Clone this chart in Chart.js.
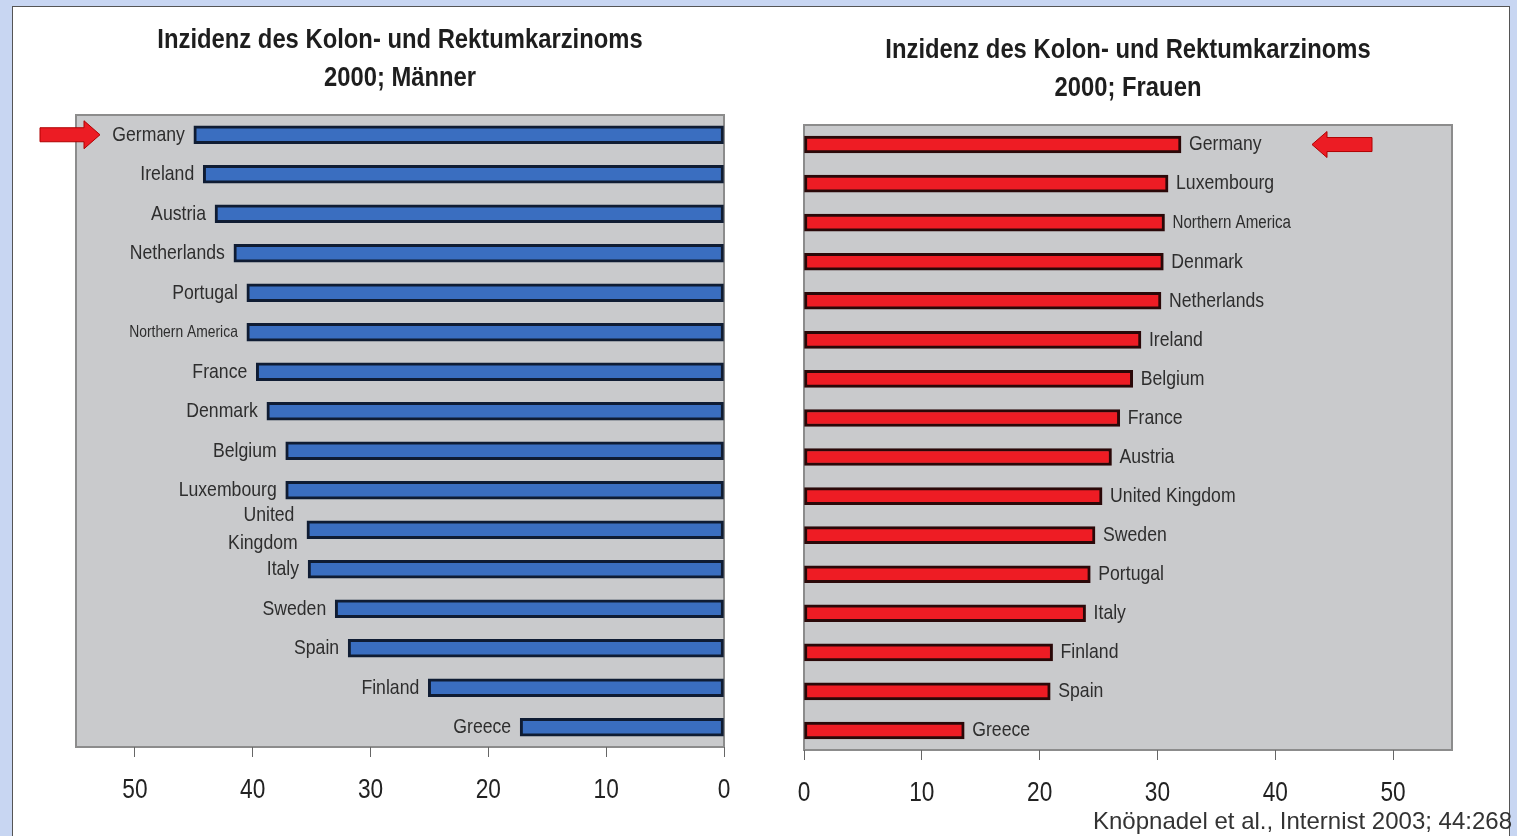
<!DOCTYPE html>
<html>
<head>
<meta charset="utf-8">
<script src="https://cdn.jsdelivr.net/npm/chart.js@4"></script>
<style>
body { margin: 0; background: #c8d6f2; width: 1517px; height: 836px; overflow: hidden; position: relative;
       font-family: 'Liberation Sans', Arial, sans-serif; }
#frame { position: absolute; left: 12px; top: 6px; width: 1496px; height: 840px; background: #fff; border: 1px solid #555; }
#menWrap { position: absolute; left: 12px; top: 6px; width: 748px; height: 830px; }
#womenWrap { position: absolute; left: 770px; top: 6px; width: 740px; height: 830px; }
#cite { position: absolute; right: 5px; top: 807px; font-size: 24px; color: #333; white-space: nowrap; }
</style>
</head>
<body>
<div id="frame"></div>
<div id="menWrap"><canvas id="men" width="748" height="830"></canvas></div>
<div id="womenWrap"><canvas id="women" width="740" height="830"></canvas></div>
<div id="cite">Knöpnadel et al., Internist 2003; 44:268</div>
<script>
var FONT = "'Liberation Sans', Arial, sans-serif";
var SQUEEZE = 0.84; // the original uses a narrow Helvetica

var menCountries = ['Germany', 'Ireland', 'Austria', 'Netherlands', 'Portugal', 'Northern America', 'France', 'Denmark',
    'Belgium', 'Luxembourg', 'United Kingdom', 'Italy', 'Sweden', 'Spain', 'Finland', 'Greece'];
var menValues = [45.0, 44.2, 43.2, 41.6, 40.5, 40.5, 39.7, 38.8, 37.2, 37.2, 35.4, 35.3, 33.0, 31.9, 25.1, 17.3];

var womenCountries = ['Germany', 'Luxembourg', 'Northern America', 'Denmark', 'Netherlands', 'Ireland', 'Belgium', 'France',
    'Austria', 'United Kingdom', 'Sweden', 'Portugal', 'Italy', 'Finland', 'Spain', 'Greece'];
var womenValues = [32.0, 30.9, 30.6, 30.5, 30.3, 28.6, 27.9, 26.8, 26.1, 25.3, 24.7, 24.3, 23.9, 21.1, 20.9, 13.6];

var xTicks = [0, 10, 20, 30, 40, 50];
var xMax = 55;

function narrowText(ctx, text, x, y, align, font, squeeze) {
    ctx.save();
    ctx.translate(x, y);
    ctx.scale(squeeze || SQUEEZE, 1);
    ctx.font = font;
    ctx.textAlign = align;
    ctx.textBaseline = 'middle';
    ctx.fillText(text, 0, 0);
    ctx.restore();
}

// grey plot box behind the bars
var plotBox = {
    id: 'plotBox',
    beforeDraw: function (chart) {
        var a = chart.chartArea, ctx = chart.ctx;
        ctx.save();
        ctx.fillStyle = '#c9cacc';
        ctx.fillRect(a.left, a.top, a.right - a.left, a.bottom - a.top);
        ctx.strokeStyle = '#8c8c8c';
        ctx.lineWidth = 2;
        ctx.strokeRect(a.left, a.top, a.right - a.left, a.bottom - a.top);
        ctx.restore();
    }
};

// titles, tick numbers, country names and the red arrow
var decorations = {
    id: 'decorations',
    afterDatasetsDraw: function (chart, args, opts) {
        var ctx = chart.ctx;
        var a = chart.chartArea;
        var meta = chart.getDatasetMeta(0);
        var labels = chart.data.labels;
        var cx = (a.left + a.right) / 2;

        ctx.save();
        ctx.fillStyle = '#1e1e1e';
        narrowText(ctx, opts.title[0], cx, a.top - 75, 'center', 'bold 28px ' + FONT, 0.85);
        narrowText(ctx, opts.title[1], cx, a.top - 37, 'center', 'bold 28px ' + FONT, 0.85);

        var xs = chart.scales.x;
        ctx.fillStyle = '#222';
        xTicks.forEach(function (v) {
            narrowText(ctx, String(v), xs.getPixelForValue(v), a.bottom + 44, 'center', '27px ' + FONT);
        });

        ctx.fillStyle = '#2e2e2e';
        meta.data.forEach(function (bar, i) {
            var name = labels[i];
            var font = (name === 'Northern America' ? opts.smallSize : 21) + 'px ' + FONT;
            if (opts.side === 'left') {
                if (name === 'United Kingdom') {
                    narrowText(ctx, 'United', bar.x - 38, bar.y - 15, 'center', font);
                    narrowText(ctx, 'Kingdom', bar.x - 44, bar.y + 13, 'center', font);
                } else {
                    narrowText(ctx, name, bar.x - 9, bar.y, 'right', font);
                }
            } else {
                narrowText(ctx, name, bar.x + 8, bar.y, 'left', font);
            }
        });

        // arrow pointing at Germany
        var y = meta.data[0].y;
        ctx.fillStyle = '#ec1c24';
        ctx.strokeStyle = '#b00000';
        ctx.lineWidth = 1;
        ctx.beginPath();
        if (opts.side === 'left') {
            var tip = a.left + 24;
            ctx.moveTo(tip, y);
            ctx.lineTo(tip - 16, y - 14);
            ctx.lineTo(tip - 16, y - 7);
            ctx.lineTo(tip - 60, y - 7);
            ctx.lineTo(tip - 60, y + 7);
            ctx.lineTo(tip - 16, y + 7);
            ctx.lineTo(tip - 16, y + 14);
        } else {
            var tip2 = a.left + 508;
            ctx.moveTo(tip2, y);
            ctx.lineTo(tip2 + 15, y - 13);
            ctx.lineTo(tip2 + 15, y - 7);
            ctx.lineTo(tip2 + 60, y - 7);
            ctx.lineTo(tip2 + 60, y + 7);
            ctx.lineTo(tip2 + 15, y + 7);
            ctx.lineTo(tip2 + 15, y + 13);
        }
        ctx.closePath();
        ctx.fill();
        ctx.stroke();
        ctx.restore();
    }
};

function makeChart(id, labels, values, opt) {
    return new Chart(document.getElementById(id), {
        type: 'bar',
        data: {
            labels: labels,
            datasets: [{
                data: values,
                backgroundColor: opt.color,
                borderColor: opt.border,
                borderWidth: 3,
                borderSkipped: false,
                barThickness: opt.thickness
            }]
        },
        options: {
            indexAxis: 'y',
            responsive: false,
            animation: false,
            layout: { padding: opt.padding },
            scales: {
                y: { display: false, offset: true },
                x: {
                    min: 0,
                    max: xMax,
                    reverse: opt.reverse,
                    afterBuildTicks: function (scale) {
                        scale.ticks = xTicks.map(function (v) { return { value: v }; });
                    },
                    afterFit: function (scale) { scale.height = opt.axisHeight; },
                    grid: { drawOnChartArea: false, drawTicks: true, tickLength: 10, color: '#666', lineWidth: 1 },
                    border: { display: false },
                    ticks: { display: false }
                }
            },
            plugins: {
                legend: { display: false },
                tooltip: { enabled: false },
                decorations: { side: opt.side, title: opt.title, smallSize: opt.smallSize }
            }
        },
        plugins: [plotBox, decorations]
    });
}

makeChart('men', menCountries, menValues, {
    color: '#3a6ec0', border: '#0f1c33', thickness: 18, reverse: true, side: 'left', smallSize: 16.5,
    padding: { left: 64, right: 36, top: 109, bottom: 0 }, axisHeight: 89,
    title: ['Inzidenz des Kolon- und Rektumkarzinoms', '2000; Männer']
});

makeChart('women', womenCountries, womenValues, {
    color: '#ee1c24', border: '#2a0808', thickness: 17, reverse: false, side: 'right', smallSize: 18,
    padding: { left: 34, right: 58, top: 119, bottom: 0 }, axisHeight: 86,
    title: ['Inzidenz des Kolon- und Rektumkarzinoms', '2000; Frauen']
});
</script>
</body>
</html>
